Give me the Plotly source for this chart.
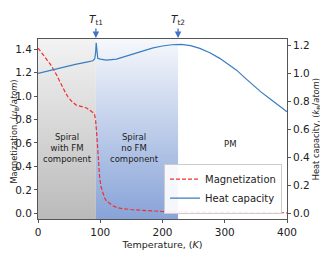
import plotly.graph_objects as go

# Magnetization (left axis)
mag_T = [0, 6, 13, 20, 27, 32, 37.5, 43, 48, 55, 61.5, 67, 72, 78, 83, 88, 91, 92.5, 94, 95.5, 97, 99, 101, 104, 107, 110, 115, 120, 126, 135, 152, 175, 200, 250, 300, 350, 400]
mag_v = [1.41, 1.37, 1.32, 1.27, 1.21, 1.155, 1.094, 1.04, 0.994, 0.95, 0.923, 0.913, 0.909, 0.898, 0.88, 0.86, 0.838, 0.795, 0.70, 0.57, 0.44, 0.31, 0.23, 0.17, 0.13, 0.105, 0.085, 0.065, 0.05, 0.04, 0.03, 0.022, 0.015, 0.01, 0.007, 0.005, 0.004]

# Heat capacity (right axis)
hc_T = [0, 20, 40, 60, 80, 88, 91, 92.5, 93.5, 94.5, 96, 100, 110, 126, 140, 163, 185, 200, 215, 230, 245, 260, 276, 292, 305, 319, 332, 345, 358, 372, 386, 400]
hc_v = [0.998, 1.02, 1.041, 1.062, 1.08, 1.088, 1.1, 1.14, 1.216, 1.14, 1.105, 1.1, 1.093, 1.1, 1.118, 1.152, 1.18, 1.193, 1.202, 1.205, 1.196, 1.176, 1.145, 1.105, 1.065, 1.021, 0.968, 0.914, 0.866, 0.819, 0.771, 0.724]

# Phase regions
T_t1 = 93
T_t2 = 225
region_labels = ["Spiral<br>with FM<br>component", "Spiral<br>no FM<br>component", "PM"]
region_x = [47, 155, 308]
region_y = [0.56, 0.56, 0.59]

y_lo, y_hi = -0.049, 1.487

fig = go.Figure()

fig.add_trace(go.Scatter(
    x=[0, T_t1, T_t1, 0, 0], y=[y_lo, y_lo, y_hi, y_hi, y_lo],
    mode="lines", line=dict(width=0), fill="toself",
    fillgradient=dict(type="vertical", colorscale=[[0, "#bababa"], [1, "#f3f3f3"]]),
    showlegend=False, hoverinfo="skip"))
fig.add_trace(go.Scatter(
    x=[T_t1, T_t2, T_t2, T_t1, T_t1], y=[y_lo, y_lo, y_hi, y_hi, y_lo],
    mode="lines", line=dict(width=0), fill="toself",
    fillgradient=dict(type="vertical", colorscale=[[0, "#87a3d8"], [1, "#f6f8fc"]]),
    showlegend=False, hoverinfo="skip"))

fig.add_trace(go.Scatter(x=mag_T, y=mag_v, mode="lines", name="Magnetization",
                         line=dict(color="#f03030", width=1.2, dash="4px,2px")))
fig.add_trace(go.Scatter(x=hc_T, y=hc_v, mode="lines", name="Heat capacity", yaxis="y2",
                         line=dict(color="#3a7dbf", width=1.2)))

font = "DejaVu Sans"
for t, s, yy in zip(region_labels, region_x, region_y):
    fig.add_annotation(x=s, y=yy, xref="x", yref="y", text=t, showarrow=False,
                       font=dict(family=font, size=8.5, color="#222"))

for T, lab in [(T_t1, "<i>T</i><sub>t1</sub>"), (T_t2, "<i>T</i><sub>t2</sub>")]:
    fig.add_annotation(x=T, y=1.005, xref="x", yref="paper", text=lab, showarrow=True,
                       arrowhead=2, arrowsize=1, arrowwidth=1.3, arrowcolor="#4472c4",
                       ax=0, ay=-18, font=dict(family=font, size=10.5, color="#222"))

# Axis titles
fig.add_annotation(x=-0.1198, y=0.484, xref="paper", yref="paper", textangle=-90,
                   text="Magnetization, (<i>μ</i><sub>B</sub>/<i>atom</i>)", showarrow=False,
                   xanchor="left", yanchor="middle", borderpad=0,
                   font=dict(family=font, size=8.3, color="#222"))
fig.add_annotation(x=1.117, y=0.499, xref="paper", yref="paper", textangle=-90,
                   text="Heat capacity, (<i>k</i><sub>B</sub>/<i>atom</i>)", showarrow=False,
                   xanchor="center", yanchor="middle", font=dict(family=font, size=8.3, color="#222"))

axcol = "#555"
fig.update_layout(
    width=320, height=248,
    margin=dict(l=30.3, r=41, t=31, b=37.3),
    plot_bgcolor="white", paper_bgcolor="white",
    font=dict(family=font, size=10.5, color="#222"),
    xaxis=dict(range=[0, 400], tickvals=[0, 100, 200, 300, 400], showgrid=False, zeroline=False,
               showline=True, linecolor=axcol, linewidth=1, mirror=True, ticks="outside", ticklen=3,
               tickcolor=axcol, automargin=False,
               title=dict(text="Temperature, (<i>K</i>)", font=dict(size=9.5), standoff=4)),
    yaxis=dict(range=[y_lo, y_hi], tickvals=[0, 0.2, 0.4, 0.6, 0.8, 1.0, 1.2, 1.4],
               ticktext=["0.0", "0.2", "0.4", "0.6", "0.8", "1.0", "1.2", "1.4"],
               showgrid=False, zeroline=False, showline=True, linecolor=axcol, linewidth=1,
               ticks="outside", ticklen=3, tickcolor=axcol, automargin=False),
    yaxis2=dict(range=[-0.04, 1.243], tickvals=[0, 0.2, 0.4, 0.6, 0.8, 1.0, 1.2],
                ticktext=["0.0", "0.2", "0.4", "0.6", "0.8", "1.0", "1.2"],
                overlaying="y", side="right", showgrid=False, zeroline=False, showline=True,
                linecolor=axcol, linewidth=1, ticks="outside", ticklen=3, tickcolor=axcol,
                automargin=False),
    legend=dict(x=0.98, y=0.03, xanchor="right", yanchor="bottom", bgcolor="rgba(255,255,255,0.9)",
                bordercolor="#ccc", borderwidth=1, font=dict(size=10), tracegroupgap=0,
                itemwidth=30),
    showlegend=True,
)

fig.write_html("out.html")
